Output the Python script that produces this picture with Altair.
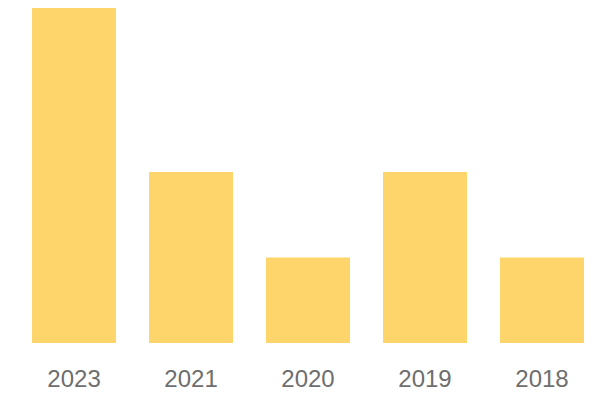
import altair as alt
import pandas as pd

years = ["2023", "2021", "2020", "2019", "2018"]
values = [4, 2, 1, 2, 1]

df = pd.DataFrame({"year": years, "value": values})

chart = alt.Chart(df).mark_bar(color="#FDD56A", clip=True).encode(
    x=alt.X("year:N", sort=years,
            scale=alt.Scale(paddingInner=0.282, paddingOuter=0.137, align=0.75),
            axis=alt.Axis(title=None, domain=False, ticks=False, labelAngle=0,
                          labelFont="Liberation Sans", labelFontSize=24,
                          labelColor="#6e6e6e", labelPadding=24)),
    y=alt.Y("value:Q", scale=alt.Scale(domain=[0, 3.92], nice=False, zero=True),
            axis=None),
).properties(
    width=584, height=335,
    autosize=alt.AutoSizeParams(type="none"),
    padding={"left": 0, "top": 0, "right": 0, "bottom": 48},
).configure_view(stroke=None)

chart.save("out.html", embed_options={"renderer": "svg", "actions": False})
